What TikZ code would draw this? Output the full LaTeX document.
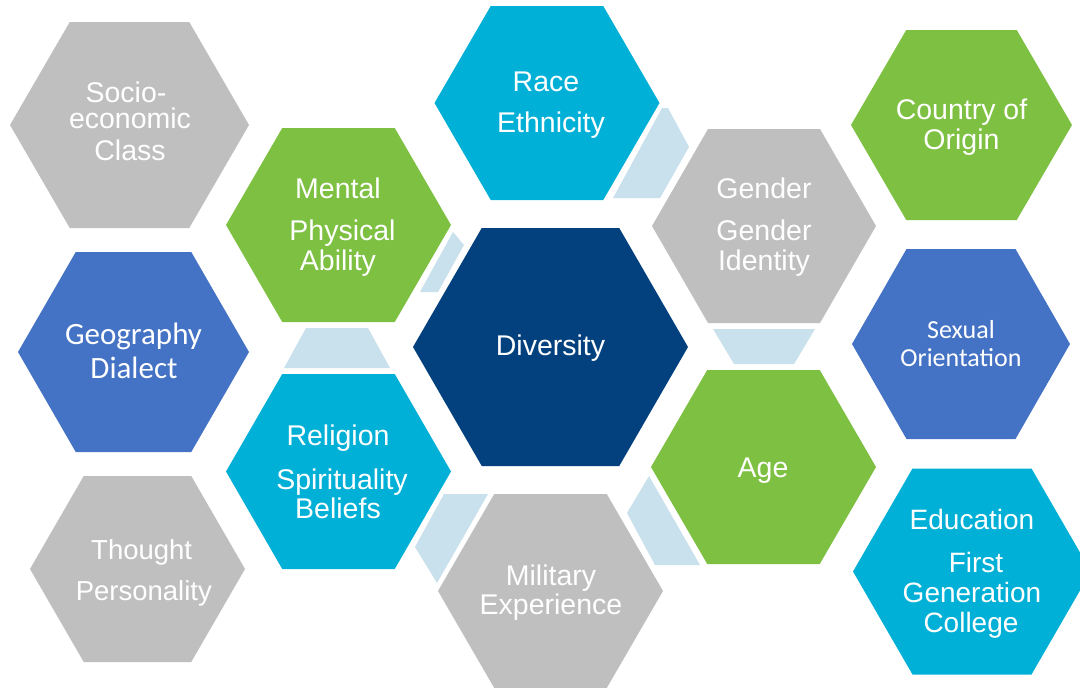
\documentclass[tikz,border=0pt]{standalone}
\usepackage{fontspec}
\setmainfont{Liberation Sans}
\newfontfamily\calib{Carlito}
\definecolor{navyhex}{RGB}{3,65,126}
\definecolor{cyanhex}{RGB}{0,176,214}
\definecolor{grayhex}{RGB}{191,191,191}
\definecolor{greenhex}{RGB}{125,192,66}
\definecolor{bluehex}{RGB}{68,114,196}
\definecolor{lighthex}{RGB}{201,225,237}
% name, cx, cy, half width, half height, colour
\newcommand\hexfill[6]{%
  \fill[#6] (#2-#4,#3) -- (#2-#4/2,#3-#5) -- (#2+#4/2,#3-#5) -- (#2+#4,#3)
    -- (#2+#4/2,#3+#5) -- (#2-#4/2,#3+#5) -- cycle;
  \coordinate (#1) at (#2,#3);}
\begin{document}
\begin{tikzpicture}[x=1pt,y=-1pt,
  lbl/.style={anchor=base, text=white, inner sep=0pt, font=\fontsize{28.5}{30}\selectfont},
  lblc/.style={anchor=base, text=white, inner sep=0pt},
  link/.style={fill=lighthex}]
\useasboundingbox (0,0) rectangle (1080,688);
\fill[white] (0,0) rectangle (1080,688);
\begin{scope}
\clip (0,0) rectangle (1080,688);
% hexagons
\hexfill{div}{550.5}{347}{137.5}{119}{navyhex}
\hexfill{race}{547}{103}{112.5}{97}{cyanhex}
\hexfill{gend}{764}{226}{112}{97}{grayhex}
\hexfill{age}{763.5}{467}{112.5}{97}{greenhex}
\hexfill{mil}{550.5}{591}{112.5}{97}{grayhex}
\hexfill{rel}{338.5}{471.5}{112.5}{97.5}{cyanhex}
\hexfill{ment}{338.5}{225}{112.5}{97}{greenhex}
\hexfill{soc}{129.5}{125}{119.5}{103}{grayhex}
\hexfill{geo}{133.5}{352}{115.5}{100}{bluehex}
\hexfill{tho}{137.5}{569}{107.5}{93}{grayhex}
\hexfill{cty}{961.5}{125}{110.5}{95}{greenhex}
\hexfill{sex}{961}{344}{109}{95}{bluehex}
\hexfill{edu}{972}{571.5}{119}{103}{cyanhex}
% light linking pieces
\fill[link] (613,198) -- (662,108) -- (668,108) -- (689,147) -- (660,198) -- cycle;
\fill[link] (420,292) -- (453,232) -- (464,245) -- (438,292) -- cycle;
\fill[link] (306,328) -- (368,328) -- (390,368) -- (284,368) -- cycle;
\fill[link] (713,329) -- (815,329) -- (794,364) -- (734,364) -- cycle;
\fill[link] (444,494) -- (488,494) -- (437,583) -- (415,547) -- cycle;
\fill[link] (649,476) -- (700,565) -- (655,565) -- (627,513) -- cycle;
\end{scope}
% labels
\node[lbl] (tdiv) at (550.5,355) {Diversity};
\node[lbl] (trace1) at (546,91) {Race};
\node[lbl] (trace2) at (551,132) {Ethnicity};
\node[lbl] (tgend1) at (764,198) {Gender};
\node[lbl] (tgend2) at (764,240) {Gender};
\node[lbl] (tgend3) at (764,270) {Identity};
\node[lbl] (tment1) at (338,198) {Mental};
\node[lbl] (tment2) at (342.5,240) {Physical};
\node[lbl] (tment3) at (338,270) {Ability};
\node[lbl] (trel1) at (338,445) {Religion};
\node[lbl] (trel2) at (342,489) {Spirituality};
\node[lbl] (trel3) at (338,518) {Beliefs};
\node[lbl] (tage) at (763,477) {Age};
\node[lbl] (tmil1) at (551,585) {Military};
\node[lbl] (tmil2) at (551,614) {Experience};
\node[lbl] (tsoc1) at (126,102) {Socio-};
\node[lbl] (tsoc2) at (130,128) {economic};
\node[lbl] (tsoc3) at (130,160) {Class};
\node[lbl,font=\fontsize{27.5}{30}\selectfont] (ttho1) at (141.7,559) {Thought};
\node[lbl,font=\fontsize{27.5}{30}\selectfont] (ttho2) at (143.8,600) {Personality};
\node[lbl] (tcty1) at (961.5,119) {Country of};
\node[lbl] (tcty2) at (961.5,149) {Origin};
\node[lblc,font=\calib\fontsize{26}{28}\selectfont] (tsex1) at (961,338) {Sexual};
\node[lblc,font=\calib\fontsize{26}{28}\selectfont] (tsex2) at (961,366) {Orientation};
\node[lblc,font=\calib\fontsize{31}{33}\selectfont] (tgeo1) at (133.5,344) {Geography};
\node[lblc,font=\calib\fontsize{31}{33}\selectfont] (tgeo2) at (134,378) {Dialect};
\node[lbl,font=\fontsize{28}{30}\selectfont] (tedu1) at (972,529) {Education};
\node[lbl,font=\fontsize{28}{30}\selectfont] (tedu2) at (976,572) {First};
\node[lbl,font=\fontsize{28}{30}\selectfont] (tedu3) at (972,602) {Generation};
\node[lbl,font=\fontsize{28}{30}\selectfont] (tedu4) at (971,632) {College};
\end{tikzpicture}
\end{document}
